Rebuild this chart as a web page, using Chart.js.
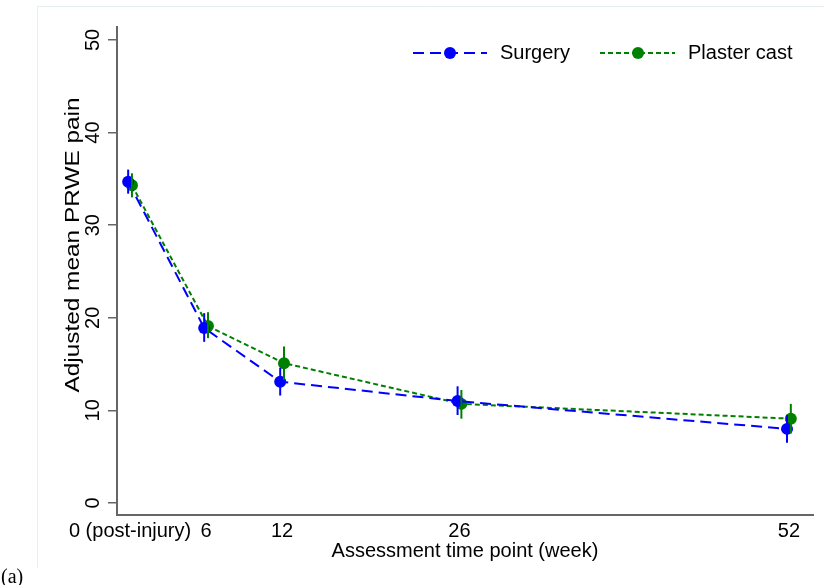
<!DOCTYPE html>
<html>
<head>
<meta charset="utf-8">
<script src="https://cdn.jsdelivr.net/npm/chart.js@4.4.1/dist/chart.umd.min.js"></script>
<style>
html,body{margin:0;padding:0;background:#fff;}
#wrap{width:824px;height:585px;position:relative;}
canvas{display:block;}
</style>
</head>
<body>
<div id="wrap"><canvas id="c" width="824" height="585"></canvas></div>
<script>
// ---- data ----
const weeks = [0, 6, 12, 26, 52];
const xTickLabels = ['0 (post-injury)', '6', '12', '26', '52'];
const yTickValues = [0, 10, 20, 30, 40, 50];
const seriesNames = ['Surgery', 'Plaster cast'];
const surgeryMean = [34.7, 18.9, 13.1, 11.0, 8.0];
const surgeryLow  = [33.4, 17.4, 11.6, 9.5, 6.5];
const surgeryHigh = [36.0, 20.5, 14.6, 12.6, 9.5];
const castMean = [34.3, 19.1, 15.1, 10.7, 9.1];
const castLow  = [33.0, 17.8, 13.3, 9.1, 7.5];
const castHigh = [35.6, 20.6, 16.9, 12.2, 10.7];
const xTitle = 'Assessment time point (week)';
const yTitle = 'Adjusted mean PRWE pain';
const panelLabel = '(a)';

// ---- style ----
const FONT = '"Liberation Sans", Arial, Helvetica, sans-serif';
const BLUE = '#0000ff';
const GREEN = '#008000';
const AXIS = '#666666';
const SHIFT = 0.15; // horizontal dodge of the two series (weeks)

const surgeryPts = weeks.map((w, i) => ({x: w - SHIFT, y: surgeryMean[i]}));
const castPts = weeks.map((w, i) => ({x: w + SHIFT, y: castMean[i]}));

const framePlugin = {
  id: 'frame',
  beforeDraw(chart) {
    const ctx = chart.ctx;
    ctx.save();
    ctx.fillStyle = '#ffffff';
    ctx.fillRect(0, 0, chart.width, chart.height);
    ctx.strokeStyle = '#e6eef2';
    ctx.lineWidth = 1;
    ctx.beginPath();
    ctx.moveTo(37.5, 568);
    ctx.lineTo(37.5, 6.5);
    ctx.lineTo(chart.width, 6.5);
    ctx.stroke();
    ctx.restore();
  }
};

const errorBarPlugin = {
  id: 'errorBars',
  afterDatasetsDraw(chart) {
    const {ctx, scales: {x, y}} = chart;
    const groups = [
      {pts: castPts, lo: castLow, hi: castHigh, color: GREEN},
      {pts: surgeryPts, lo: surgeryLow, hi: surgeryHigh, color: BLUE}
    ];
    ctx.save();
    ctx.lineWidth = 2;
    groups.forEach(g => {
      ctx.strokeStyle = g.color;
      g.pts.forEach((p, i) => {
        const px = x.getPixelForValue(p.x);
        ctx.beginPath();
        ctx.moveTo(px, y.getPixelForValue(g.lo[i]));
        ctx.lineTo(px, y.getPixelForValue(g.hi[i]));
        ctx.stroke();
      });
    });
    ctx.restore();
  }
};

const yLabelPlugin = {
  id: 'yLabels',
  afterDraw(chart) {
    const {ctx, scales: {y}} = chart;
    ctx.save();
    ctx.fillStyle = '#000';
    ctx.font = '20px ' + FONT;
    ctx.textAlign = 'center';
    ctx.textBaseline = 'middle';
    yTickValues.forEach(v => {
      const py = y.getPixelForValue(v);
      ctx.save();
      ctx.translate(93, py);
      ctx.rotate(-Math.PI / 2);
      ctx.fillText(String(v), 0, 0);
      ctx.restore();
    });
    // y-axis title (drawn stretched along its length like the reference)
    ctx.save();
    ctx.translate(73, 245);
    ctx.rotate(-Math.PI / 2);
    ctx.scale(1.22, 1);
    ctx.fillText(yTitle, 0, 0);
    ctx.restore();
    // panel label
    ctx.font = '20px "Liberation Serif", "Times New Roman", serif';
    ctx.textAlign = 'left';
    ctx.fillText(panelLabel, 1, 578);
    ctx.restore();
  }
};

const legendPlugin = {
  id: 'customLegend',
  afterDraw(chart) {
    const ctx = chart.ctx;
    const items = [
      {name: seriesNames[0], color: BLUE, dash: [11, 6], x0: 413, x1: 487, mx: 450, tx: 500},
      {name: seriesNames[1], color: GREEN, dash: [5, 3], x0: 600, x1: 675, mx: 638, tx: 688}
    ];
    const ly = 53;
    ctx.save();
    items.forEach(it => {
      ctx.strokeStyle = it.color;
      ctx.lineWidth = 2;
      ctx.setLineDash(it.dash);
      ctx.beginPath();
      ctx.moveTo(it.x0, ly);
      ctx.lineTo(it.x1, ly);
      ctx.stroke();
      ctx.setLineDash([]);
      ctx.fillStyle = it.color;
      ctx.beginPath();
      ctx.arc(it.mx, ly, 6, 0, Math.PI * 2);
      ctx.fill();
      ctx.fillStyle = '#000';
      ctx.font = '20px ' + FONT;
      ctx.textAlign = 'left';
      ctx.textBaseline = 'middle';
      ctx.fillText(it.name, it.tx, ly);
    });
    ctx.restore();
  }
};

new Chart(document.getElementById('c'), {
  type: 'scatter',
  data: {
    datasets: [
      {
        label: seriesNames[0],
        data: surgeryPts,
        showLine: true,
        borderColor: BLUE,
        backgroundColor: BLUE,
        borderWidth: 2,
        borderDash: [11, 6],
        pointRadius: 6,
        pointBorderWidth: 0,
        pointBackgroundColor: BLUE,
        pointHoverRadius: 6,
        order: 1
      },
      {
        label: seriesNames[1],
        data: castPts,
        showLine: true,
        borderColor: GREEN,
        backgroundColor: GREEN,
        borderWidth: 2,
        borderDash: [5, 3],
        pointRadius: 6,
        pointBorderWidth: 0,
        pointBackgroundColor: GREEN,
        pointHoverRadius: 6,
        order: 2
      }
    ]
  },
  options: {
    responsive: false,
    animation: false,
    devicePixelRatio: 1,
    layout: {padding: {left: 0, top: 27, right: 11, bottom: 0}},
    plugins: {legend: {display: false}, tooltip: {enabled: false}},
    scales: {
      x: {
        type: 'linear',
        min: -1.03,
        max: 53.9,
        afterBuildTicks(scale) { scale.ticks = weeks.map(v => ({value: v})); },
        afterFit(scale) { scale.height = 70; },
        grid: {display: false, drawTicks: false},
        border: {display: true, color: AXIS, width: 2},
        ticks: {
          autoSkip: false,
          maxRotation: 0,
          minRotation: 0,
          padding: 4,
          color: '#000',
          font: {family: FONT, size: 20},
          callback(v) { const i = weeks.indexOf(v); return i >= 0 ? xTickLabels[i] : ''; }
        },
        title: {display: true, text: xTitle, color: '#000', font: {family: FONT, size: 20}, padding: {top: 0, bottom: 22}}
      },
      y: {
        type: 'linear',
        min: -1.3,
        max: 51.4,
        afterBuildTicks(scale) { scale.ticks = yTickValues.map(v => ({value: v})); },
        afterFit(scale) { scale.width = 117; },
        grid: {display: true, drawOnChartArea: false, drawTicks: true, tickLength: 9, color: AXIS, lineWidth: 1.5},
        border: {display: true, color: AXIS, width: 2},
        ticks: {display: false},
        title: {display: false, text: yTitle}
      }
    }
  },
  plugins: [framePlugin, errorBarPlugin, yLabelPlugin, legendPlugin]
});
</script>
</body>
</html>
